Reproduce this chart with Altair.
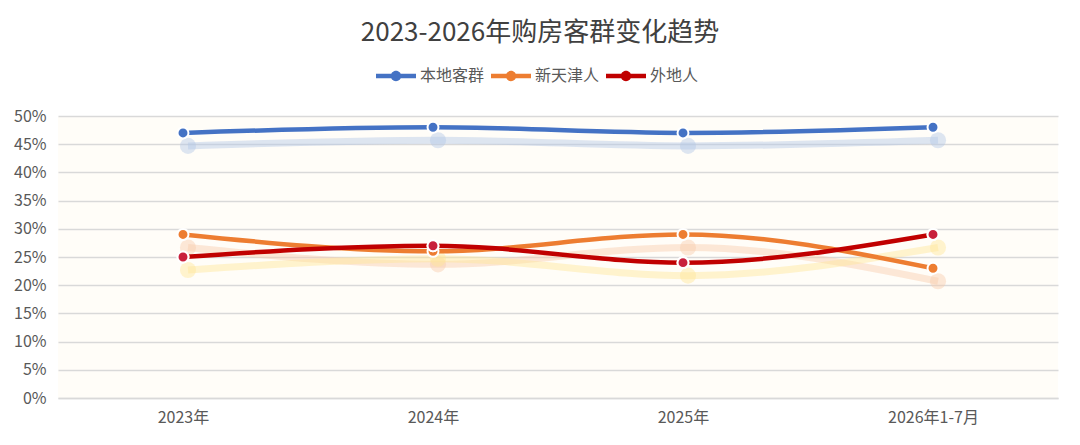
import altair as alt
import pandas as pd

years = ["2023年", "2024年", "2025年", "2026年1-7月"]
series = ["本地客群", "新天津人", "外地人"]
local_vals = [0.47, 0.48, 0.47, 0.48]
newtj_vals = [0.29, 0.26, 0.29, 0.23]
outside_vals = [0.25, 0.27, 0.24, 0.29]
line_colors = ["#4472C4", "#ED7D31", "#C00000"]
point_colors = ["#4472C4", "#ED7D31", "#C8203C"]
shadow_colors = ["#B4C7E7", "#F8CBAD", "#FFE699"]

rows = []
for s, vals in zip(series, [local_vals, newtj_vals, outside_vals]):
    for y, v in zip(years, vals):
        rows.append({"年份": y, "系列": s, "占比": v})
df = pd.DataFrame(rows)

FONT = "Noto Sans CJK SC"

x_enc = alt.X("年份:N", sort=years, title=None,
              axis=alt.Axis(labelAngle=0, labelFontSize=16, labelColor="#595959",
                            labelFont=FONT, ticks=False, domain=True, domainColor="#D9D9D9",
                            domainWidth=1.5, labelPadding=11))
y_enc = alt.Y("占比:Q", title=None,
              scale=alt.Scale(domain=[0, 0.5], nice=False),
              axis=alt.Axis(values=[i / 100 for i in range(0, 51, 5)], format=".0%",
                            labelFontSize=16, labelColor="#595959", labelFont=FONT,
                            ticks=False, domain=False, gridColor="#D9D9D9", gridWidth=1.5,
                            labelPadding=12))

base = alt.Chart(df)

shadow_layers = []
for s, sc in zip(series, shadow_colors):
    sub = base.transform_filter(alt.datum["系列"] == s)
    shadow_layers.append(sub.mark_line(interpolate="monotone", strokeWidth=7, opacity=0.45,
                                       xOffset=5, yOffset=13, color=sc).encode(x=x_enc, y=y_enc))
    shadow_layers.append(sub.mark_circle(size=260, opacity=0.45, xOffset=5, yOffset=13,
                                         color=sc).encode(x=x_enc, y=y_enc))

legend_path = ("M-1,-0.11 H1 V0.11 H-1 Z "
               "M0.26,0 A0.26,0.26 0 1,1 -0.26,0 A0.26,0.26 0 1,1 0.26,0 Z")

legend = alt.Legend(title=None, orient="none", direction="horizontal",
                    legendX=318, legendY=-60,
                    symbolType=legend_path, symbolSize=1600,
                    symbolStrokeWidth=0, symbolOpacity=1,
                    labelFontSize=16, labelColor="#595959",
                    labelFont=FONT, labelOffset=4, columnPadding=6)
color_enc = alt.Color("系列:N", sort=series,
                      scale=alt.Scale(domain=series, range=line_colors),
                      legend=legend)

lines = base.mark_line(interpolate="monotone", strokeWidth=4.5).encode(
    x=x_enc, y=y_enc, color=color_enc)
points = base.mark_circle(size=120, opacity=1, stroke="white", strokeWidth=2).encode(
    x=x_enc, y=y_enc, color=color_enc)
red_points = base.transform_filter(alt.datum["系列"] == series[2]).mark_circle(
    size=120, opacity=1, stroke="white", strokeWidth=2, color=point_colors[2]).encode(
    x=x_enc, y=y_enc)

chart = alt.layer(*shadow_layers, lines, points, red_points).properties(
    width=1000, height=282,
    autosize=alt.AutoSizeParams(type="none"),
    padding={"left": 50, "top": 108, "right": 14, "bottom": 39},
    title=alt.TitleParams("2023-2026年购房客群变化趋势", fontSize=26, font=FONT,
                          fontWeight="normal", color="#404040", anchor="middle",
                          dx=-18, offset=10),
    background="white",
).configure_view(fill="#FFFDF8", stroke=None)

chart.save("out.html", embed_options={"renderer": "svg", "actions": False})
